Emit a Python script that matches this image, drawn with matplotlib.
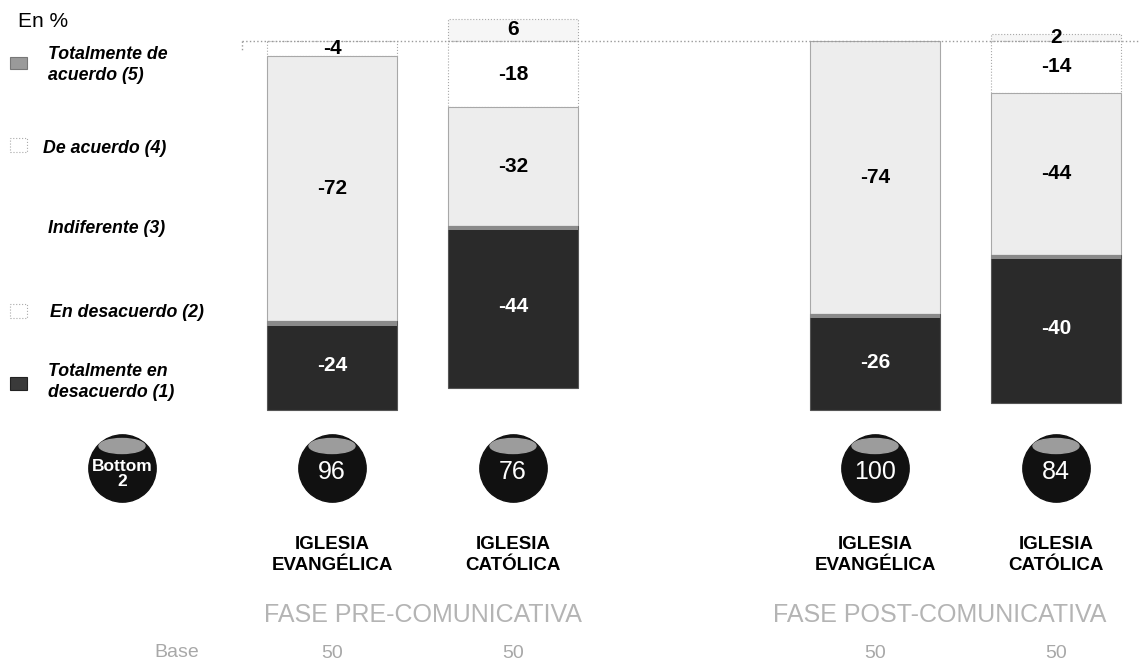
#!/usr/bin/env python3
"""
Stacked diverging bars: agreement scale by church, pre and post communication phase.
"""

import matplotlib

matplotlib.use("Agg")
import matplotlib.pyplot as plt
from matplotlib.patches import Ellipse, Rectangle

plt.rcParams["font.family"] = ["Liberation Sans", "DejaVu Sans"]

# ---- data ----------------------------------------------------------------
CATEGORIES = ["IGLESIA\nEVANGÉLICA", "IGLESIA\nCATÓLICA", "IGLESIA\nEVANGÉLICA", "IGLESIA\nCATÓLICA"]
PHASES = ["FASE PRE-COMUNICATIVA", "FASE POST-COMUNICATIVA"]
TOT_ACUERDO = [0, 0, 0, 0]
DE_ACUERDO = [0, 6, 0, 2]
INDIFERENTE = [4, 18, 0, 14]
DESACUERDO = [72, 32, 74, 44]
TOT_DESACUERDO = [24, 44, 26, 40]
BOTTOM2 = [96, 76, 100, 84]
BASE = [50, 50, 50, 50]
LEGEND = [
    "Totalmente de\nacuerdo (5)",
    "De acuerdo (4)",
    "Indiferente (3)",
    "En desacuerdo (2)",
    "Totalmente en\ndesacuerdo (1)",
]

# ---- layout (pixels of the 1139x665 canvas) --------------------------------
W, H = 1139, 665
X0_PX, X_SCALE = 332, 181.0  # bar 0 centre, px per slot
Y0_PX, Y_SCALE = 41, 3.69  # zero line, px per percent
POS = [0, 1, 3, 4]
BAR_W = 0.72
VAL_FS = 15

LIGHT = "#ededed"
DARK = "#2a2a2a"
EDGE = "#a8a8a8"


def px(x):
    return (x - X0_PX) / X_SCALE


def py(y):
    return -(y - Y0_PX) / Y_SCALE


fig = plt.figure(figsize=(W / 100, H / 100), dpi=100)
ax = fig.add_axes([0, 0, 1, 1])
ax.set_xlim(px(0), px(W))
ax.set_ylim(py(H), py(0))
ax.axis("off")

# zero line
ax.plot([px(242), px(W)], [0, 0], color="#9a9a9a", linewidth=1.0, linestyle=":")
ax.plot([px(242), px(242)], [0, py(50)], color="#9a9a9a", linewidth=1.0, linestyle=":")

for i, x in enumerate(POS):
    # positive side
    if DE_ACUERDO[i]:
        ax.bar(x, DE_ACUERDO[i], BAR_W, bottom=0, color="#f6f6f6",
               edgecolor=EDGE, linewidth=0.8, linestyle=":")
        ax.text(x, DE_ACUERDO[i] / 2, f"{DE_ACUERDO[i]}", ha="center", va="center",
                fontsize=VAL_FS, fontweight="bold", color="black")
    # negative side
    bottom = 0
    if INDIFERENTE[i]:
        ax.bar(x, -INDIFERENTE[i], BAR_W, bottom=bottom, color="white",
               edgecolor=EDGE, linewidth=0.8, linestyle=":")
        ax.text(x, bottom - INDIFERENTE[i] / 2, f"-{INDIFERENTE[i]}", ha="center",
                va="center", fontsize=VAL_FS, fontweight="bold", color="black")
        bottom -= INDIFERENTE[i]
    ax.bar(x, -DESACUERDO[i], BAR_W, bottom=bottom, color=LIGHT,
           edgecolor=EDGE, linewidth=0.8)
    ax.text(x, bottom - DESACUERDO[i] / 2, f"-{DESACUERDO[i]}", ha="center",
            va="center", fontsize=VAL_FS, fontweight="bold", color="black")
    bottom -= DESACUERDO[i]
    ax.bar(x, -TOT_DESACUERDO[i], BAR_W, bottom=bottom, color=DARK,
           edgecolor="#555555", linewidth=0.8)
    ax.bar(x, -1.2, BAR_W, bottom=bottom, color="#8a8a8a", linewidth=0)
    ax.text(x, bottom - TOT_DESACUERDO[i] / 2, f"-{TOT_DESACUERDO[i]}", ha="center",
            va="center", fontsize=VAL_FS, fontweight="bold", color="white")

    # bottom-2 bubble
    ax.scatter([x], [py(468)], s=2350, color="#111111", zorder=3)
    ax.add_patch(Ellipse((x, py(446)), 46 / X_SCALE, 15 / Y_SCALE,
                         color="#9c9c9c", zorder=4))
    ax.text(x, py(472), f"{BOTTOM2[i]}", ha="center", va="center", fontsize=18,
            color="white", zorder=5)

    ax.text(x, py(555), CATEGORIES[i], ha="center", va="center", fontsize=13.5,
            fontweight="bold", color="black", linespacing=1.3)
    ax.text(x, py(653), f"{BASE[i]}", ha="center", va="center", fontsize=14,
            color="#a8a8a8")

# "Bottom 2" bubble
bx = px(122)
ax.scatter([bx], [py(468)], s=2350, color="#111111", zorder=3)
ax.add_patch(Ellipse((bx, py(446)), 46 / X_SCALE, 15 / Y_SCALE, color="#9c9c9c", zorder=4))
ax.text(bx, py(474), "Bottom\n2", ha="center", va="center", fontsize=12.5,
        fontweight="bold", color="white", linespacing=1.0, zorder=5)

# phase labels
ax.text(0.5, py(615), PHASES[0], ha="center", va="center", fontsize=18, color="#b4b4b4")
ax.text(px(940), py(615), PHASES[1], ha="center", va="center", fontsize=18, color="#b4b4b4")
ax.text(px(177), py(652), "Base", ha="center", va="center", fontsize=14, color="#a8a8a8")

# legend
ax.text(px(18), py(21), "En %", ha="left", va="center", fontsize=15, color="black")
legend_y = [65, 148, 228, 312, 382]
legend_x = [48, 43, 48, 50, 48]
swatches = [
    ("#9a9a9a", "#777777", 57, 12),
    ("white", "#aaaaaa", 138, 14),
    (None, None, 0, 0),
    ("white", "#aaaaaa", 304, 14),
    ("#3a3a3a", "#222222", 377, 13),
]
for label, ly, lx, (fc, ec, sy, sh) in zip(LEGEND, legend_y, legend_x, swatches):
    ax.text(px(lx), py(ly), label, ha="left", va="center", fontsize=12.8,
            fontweight="bold", style="italic", color="black", linespacing=1.35)
    if fc is not None:
        ax.add_patch(Rectangle((px(10), py(sy + sh)), 17 / X_SCALE, sh / Y_SCALE,
                               facecolor=fc, edgecolor=ec, linewidth=0.8,
                               linestyle=":" if fc == "white" else "-"))

fig.savefig("out.png", dpi=100)
plt.close(fig)
